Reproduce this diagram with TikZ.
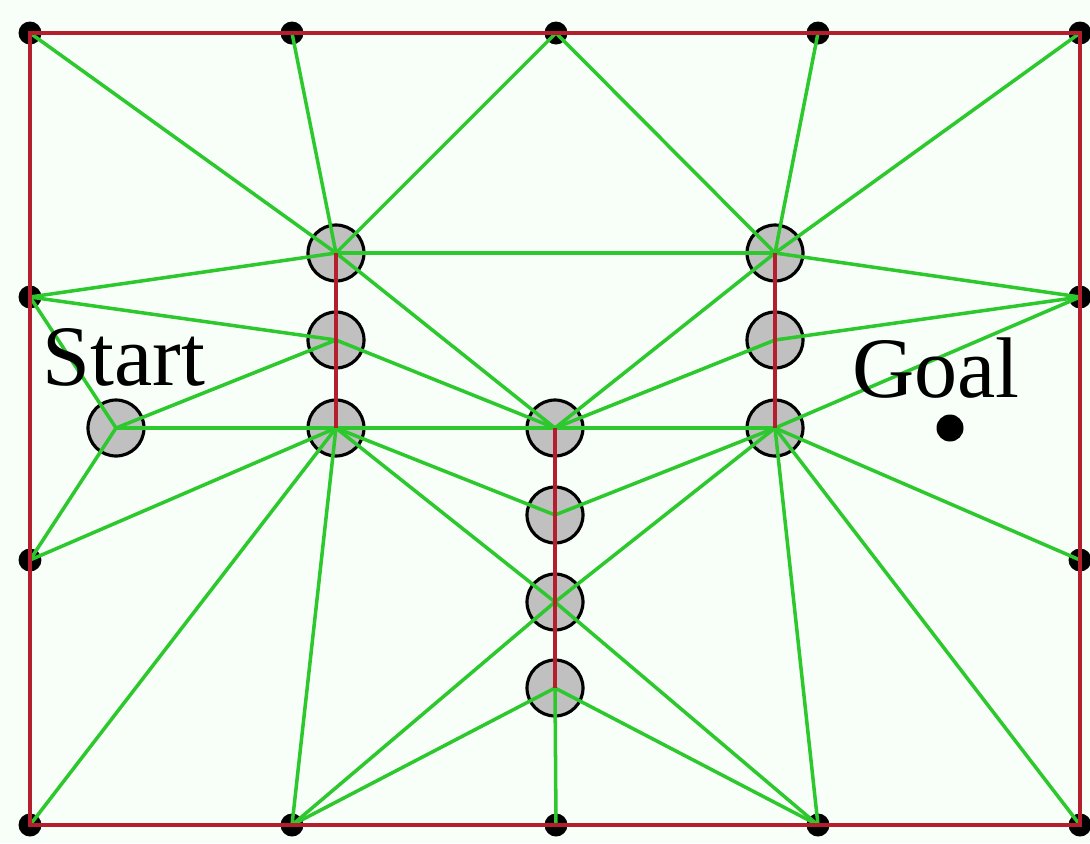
\documentclass[tikz,border=0pt]{standalone}
\usepackage{fontspec}
\setmainfont{Liberation Serif}
\usepackage{tikz}
\definecolor{visgreen}{RGB}{45,200,45}
\definecolor{wallred}{RGB}{180,30,45}
\definecolor{obsgray}{RGB}{192,192,192}
\definecolor{paper}{RGB}{248,255,248}

\begin{document}
\begin{tikzpicture}[x=0.02cm,y=-0.02cm,
    vtx/.style={circle,fill=black,inner sep=0pt,minimum size=0.46cm},
    obst/.style={circle,draw=black,fill=obsgray,line width=1.8pt,inner sep=0pt,minimum size=1.12cm},
    vis/.style={draw=visgreen,line width=2pt},
    wall/.style={draw=wallred,line width=2.6pt},
    lbl/.style={font=\fontsize{49}{49}\selectfont,inner sep=0pt,anchor=base west}]
  \fill[paper] (0,0) rectangle (1090,843);
  \useasboundingbox (0,0) rectangle (1090,843);
  % corner and side points
  \foreach \n/\x/\y in {t1/30/33, t2/292/33, t3/556/33, t4/818/33, t5/1080/33,
                        l2/30/297, l3/30/560, r2/1080/297, r3/1080/560,
                        b1/30/825, b2/292/825, b3/556/825, b4/818/825, b5/1080/825}
    \node[vtx] (\n) at (\x,\y) {};
  % obstacles
  \node[obst] (s) at (116,428) {};
  \foreach \n/\y in {1/253, 2/340, 3/428} {
    \node[obst] (a\n) at (336,\y) {};
    \node[obst] (d\n) at (775,\y) {};
  }
  \foreach \n/\y in {1/428, 2/515, 3/602, 4/688}
    \node[obst] (c\n) at (555,\y) {};
  % visibility edges
  \foreach \u/\v in {t1/a1, t2/a1, t3/a1, t3/d1, t4/d1, t5/d1, a1/d1,
                     l2/a1, l2/a2, l2/s, l3/s, l3/a3, s/a2, s/a3,
                     a1/c1, a2/c1, a3/c1, c1/d3, d1/c1, d2/c1,
                     a3/c2, a3/c3, d3/c2, d3/c3, a3/b1, a3/b2,
                     b2/c3, b2/c4, c4/b3, c4/b4, c3/b4,
                     d3/b4, d3/b5, d3/r3, d1/r2, d2/r2, d3/r2}
    \draw[vis] (\u.center) -- (\v.center);
  % walls
  \draw[wall] (t1.center) -- (t5.center) -- (b5.center) -- (b1.center) -- cycle;
  \draw[wall] (a1.center) -- (a3.center);
  \draw[wall] (c1.center) -- (c4.center);
  \draw[wall] (d1.center) -- (d3.center);
  % labels
  \node[lbl] (startlbl) at (42,385) {Start};
  \node[lbl] (goallbl) at (852,397) {Goal};
  \node[circle,fill=black,inner sep=0pt,minimum size=0.54cm] (goal) at (950,428) {};
\end{tikzpicture}
\end{document}
